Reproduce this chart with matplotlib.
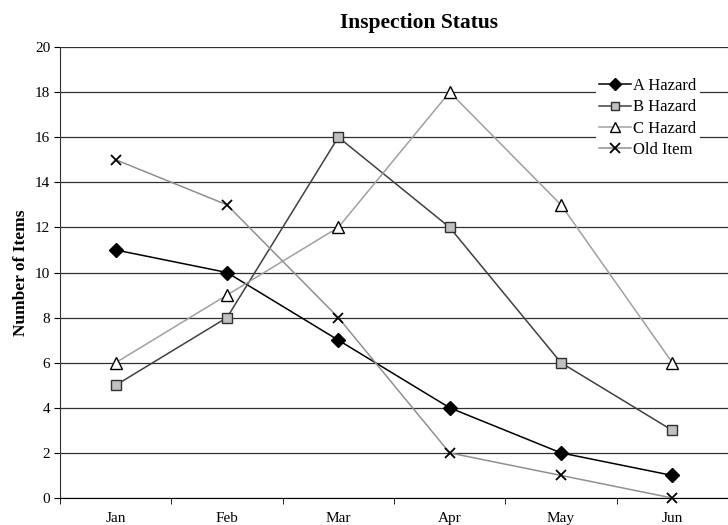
import matplotlib
matplotlib.use("Agg")
import matplotlib.pyplot as plt

months = ["Jan", "Feb", "Mar", "Apr", "May", "Jun"]
a_hazard = [11, 10, 7, 4, 2, 1]
b_hazard = [5, 8, 16, 12, 6, 3]
c_hazard = [6, 9, 12, 18, 13, 6]
old_item = [15, 13, 8, 2, 1, 0]

plt.rcParams['font.family'] = ['Liberation Serif', 'DejaVu Serif']

fig = plt.figure(figsize=(7.28, 5.25), dpi=100)
ax = fig.add_axes([60 / 728, 1 - 498 / 525, 1 - 60 / 728, (498 - 47) / 525])

x = range(len(months))
ax.plot(x, a_hazard, color='black', lw=1.1, marker='D', ms=7,
        mfc='black', mec='black', label='A Hazard', clip_on=False, zorder=4)
ax.plot(x, b_hazard, color='#404040', lw=1.1, marker='s', ms=7,
        mfc='#c0c0c0', mec='#303030', label='B Hazard', clip_on=False, zorder=4)
ax.plot(x, c_hazard, color='#a0a0a0', lw=1.1, marker='^', ms=8,
        mfc='white', mec='black', label='C Hazard', clip_on=False, zorder=4)
ax.plot(x, old_item, color='#909090', lw=1.1, marker='x', ms=7.5, mew=1.3,
        mec='black', label='Old Item', clip_on=False, zorder=4)

ax.set_ylim(0, 20)
ax.set_xlim(-0.5, 5.5 - 4 / 112)
ax.set_yticks(range(0, 21, 2))
ax.set_xticks(x)
ax.set_xticklabels(months)
ax.set_xticks([i + 0.5 for i in range(-1, 6)], minor=True)
ax.tick_params(axis='x', which='major', length=0, labelsize=11, pad=10)
ax.tick_params(axis='x', which='minor', length=4, direction='out')
ax.tick_params(axis='y', length=4, direction='out', labelsize=11, pad=3)
ax.yaxis.grid(True, color='#303030', lw=0.9)
ax.set_axisbelow(True)

for side in ['top', 'right']:
    ax.spines[side].set_visible(False)
ax.spines['left'].set_color('#303030')
ax.spines['bottom'].set_color('black')

ax.set_ylabel('Number of Items', fontsize=12.5, fontweight='bold', labelpad=4)
ax.set_title('Inspection Status', fontsize=15.5, fontweight='bold',
             x=0.537, pad=14)

leg = ax.legend(loc='upper right', bbox_to_anchor=(0.97, 0.957), frameon=True,
                fontsize=12, handlelength=1.9, handletextpad=0.15,
                labelspacing=0.32, borderpad=0.2, markerscale=0.9)
leg.get_frame().set_edgecolor('none')
leg.get_frame().set_facecolor('white')
leg.get_frame().set_alpha(1)
leg.get_frame().set_boxstyle('square', pad=0)

fig.savefig('out.png', dpi=100)
